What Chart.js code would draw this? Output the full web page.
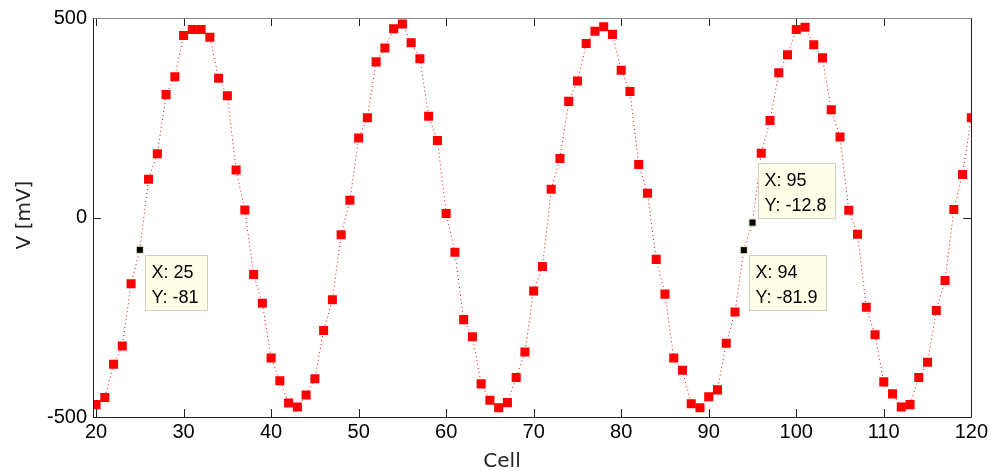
<!DOCTYPE html>
<html>
<head>
<meta charset="utf-8">
<script src="https://cdn.jsdelivr.net/npm/chart.js@4/dist/chart.umd.min.js"></script>
<style>
  html, body { margin: 0; padding: 0; background: #fff; }
  #wrap { width: 991px; height: 471px; }
</style>
</head>
<body>
<div id="wrap"><canvas id="vChart" width="991" height="471"></canvas></div>
<script>
// cells 20..120, one sample each
const cells = [];
for (let c = 20; c <= 120; c++) cells.push(c);

const voltage = [
  -469, -451, -368, -322, -166, -81, 96, 160, 308, 353,     // 20-29
  456, 471, 471, 452, 349, 305, 119, 19, -143, -215,        // 30-39
  -352, -409, -465, -475, -445, -404, -283, -206, -43, 43,  // 40-49
  199, 250, 390, 425, 473, 485, 438, 398, 254, 193,         // 50-59
  10, -87, -256, -299, -417, -458, -477, -464, -401, -337,  // 60-69
  -184, -123, 71, 148, 291, 342, 436, 467, 478, 459,        // 70-79
  369, 316, 133, 61, -105, -192, -352, -383, -467, -477,    // 80-89
  -449, -432, -315, -237, -81.9, -12.8, 161, 243, 363, 408, // 90-99
  471, 477, 433, 400, 270, 202, 18, -42, -225, -294,        // 100-109
  -412, -442, -475, -469, -401, -363, -233, -158, 20, 108,  // 110-119
  250                                                       // 120
];

const xTicks = [20, 30, 40, 50, 60, 70, 80, 90, 100, 110, 120];
const yTicks = [-500, 0, 500];
const tipCells = [25, 94, 95];

const tickFont = { family: 'Liberation Sans, Arial, sans-serif', size: 20 };

// frame, inside ticks, axis titles and data tips
const matlabAxes = {
  id: 'matlabAxes',
  afterDatasetsDraw(chart) {
    const { ctx, chartArea: a, scales: { x, y } } = chart;
    ctx.save();
    ctx.lineWidth = 1;
    ctx.strokeStyle = '#222';
    ctx.beginPath();
    xTicks.forEach(t => {
      const px = Math.round(x.getPixelForValue(t)) + 0.5;
      ctx.moveTo(px, a.bottom); ctx.lineTo(px, a.bottom - 8);
      ctx.moveTo(px, a.top); ctx.lineTo(px, a.top + 8);
    });
    yTicks.forEach(t => {
      const py = Math.round(y.getPixelForValue(t)) + 0.5;
      ctx.moveTo(a.left, py); ctx.lineTo(a.left + 8, py);
      ctx.moveTo(a.right, py); ctx.lineTo(a.right - 8, py);
    });
    ctx.stroke();

    const L = Math.round(a.left) + 0.5, R = Math.round(a.right) + 0.5;
    const T = Math.round(a.top) + 0.5, B = Math.round(a.bottom) + 0.5;
    ctx.strokeStyle = '#888';
    ctx.beginPath(); ctx.moveTo(L, T); ctx.lineTo(R, T); ctx.stroke();
    ctx.strokeStyle = '#222';
    ctx.beginPath(); ctx.moveTo(L, T); ctx.lineTo(L, B); ctx.lineTo(R, B); ctx.lineTo(R, T); ctx.stroke();

    // axis titles
    ctx.fillStyle = '#222';
    ctx.font = '20px "DejaVu Sans", sans-serif';
    ctx.textAlign = 'center';
    ctx.textBaseline = 'alphabetic';
    ctx.fillText('Cell', 502, 467);
    ctx.save();
    ctx.translate(30, 215);
    ctx.rotate(-Math.PI / 2);
    ctx.fillText('V [mV]', 0, 0);
    ctx.restore();

    // data tips
    const above = { 95: true };
    ctx.font = '18px "Liberation Sans", Arial, sans-serif';
    ctx.textAlign = 'left';
    tipCells.forEach(c => {
      const v = voltage[cells.indexOf(c)];
      const px = x.getPixelForValue(c), py = y.getPixelForValue(v);
      const l1 = 'X: ' + c, l2 = 'Y: ' + v;
      const w = Math.ceil(Math.max(ctx.measureText(l1).width, ctx.measureText(l2).width)) + 14;
      const h = 55;
      const bx = Math.round(px + 5) + 0.5;
      const by = Math.round(above[c] ? py - 5 - h : py + 5) + 0.5;
      ctx.fillStyle = '#ffffe8';
      ctx.strokeStyle = '#cfcfc4';
      ctx.fillRect(bx, by, w, h);
      ctx.strokeRect(bx, by, w, h);
      ctx.fillStyle = '#000';
      ctx.fillText(l1, bx + 6, by + 22);
      ctx.fillText(l2, bx + 6, by + 47);
    });
    ctx.restore();
  }
};

new Chart(document.getElementById('vChart').getContext('2d'), {
  type: 'line',
  data: {
    labels: cells,
    datasets: [{
      data: cells.map((c, i) => ({ x: c, y: voltage[i] })),
      borderColor: '#ff0000',
      borderWidth: 1,
      borderDash: [1, 3],
      tension: 0,
      pointStyle: 'rect',
      pointRadius: cells.map(c => tipCells.includes(c) ? 5 : 6.4),
      pointBackgroundColor: cells.map(c => tipCells.includes(c) ? '#000' : '#ff0000'),
      pointBorderColor: cells.map(c => tipCells.includes(c) ? '#ecebc0' : '#ff0000'),
      pointBorderWidth: cells.map(c => tipCells.includes(c) ? 1 : 0)
    }]
  },
  options: {
    responsive: false,
    animation: false,
    layout: { padding: { left: 0, right: 19, top: 17, bottom: 0 } },
    plugins: { legend: { display: false }, tooltip: { enabled: false } },
    scales: {
      x: {
        type: 'linear', min: 19.65, max: 120,
        afterBuildTicks: s => { s.ticks = xTicks.map(v => ({ value: v })); },
        afterFit: s => { s.height = 54; },
        grid: { display: false, drawTicks: false },
        border: { display: false },
        ticks: { font: tickFont, color: '#000', padding: 3, maxRotation: 0, autoSkip: false }
      },
      y: {
        type: 'linear', min: -500, max: 500,
        afterBuildTicks: s => { s.ticks = yTicks.map(v => ({ value: v })); },
        afterFit: s => { s.width = 93; },
        grid: { display: false, drawTicks: false },
        border: { display: false },
        ticks: { font: tickFont, color: '#000', padding: 6 }
      }
    }
  },
  plugins: [matlabAxes]
});
</script>
</body>
</html>
